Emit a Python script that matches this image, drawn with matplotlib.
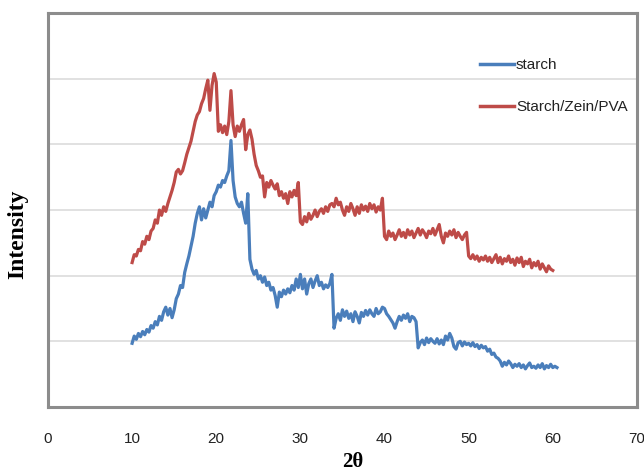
import numpy as np
import matplotlib
matplotlib.use("Agg")
import matplotlib.pyplot as plt

# XRD scan grid (degrees 2-theta, 0.25 step)
two_theta_starch = np.arange(10.0, 60.51, 0.25)
two_theta_blend = np.arange(10.0, 60.01, 0.25)

# intensities (arbitrary units, 1 unit = one gridline)
starch = [
    0.97, 1.08, 1.03, 1.12, 1.07, 1.15, 1.10, 1.18,
    1.14, 1.24, 1.20, 1.30, 1.25, 1.38, 1.32, 1.45,
    1.52, 1.40, 1.50, 1.36, 1.48, 1.65, 1.72, 1.85,
    1.82, 2.05, 2.18, 2.30, 2.45, 2.60, 2.80, 2.95,
    3.05, 2.85, 3.02, 2.88, 3.00, 3.12, 3.05, 3.22,
    3.28, 3.38, 3.35, 3.45, 3.42, 3.52, 3.60, 4.06,
    3.45, 3.20, 3.10, 3.05, 3.12, 2.95, 2.80, 3.25,
    2.25, 2.10, 2.02, 2.08, 1.95, 2.00, 1.90, 1.98,
    1.85, 1.90, 1.78, 1.82, 1.70, 1.52, 1.75, 1.68,
    1.78, 1.72, 1.80, 1.74, 1.85, 1.78, 1.95, 1.82,
    2.02, 1.80, 1.95, 1.72, 1.88, 1.95, 1.82, 1.92,
    2.00, 1.85, 1.90, 1.80, 1.86, 1.82, 1.88, 2.02,
    1.20, 1.35, 1.42, 1.32, 1.48, 1.38, 1.46, 1.35,
    1.42, 1.30, 1.45, 1.38, 1.28, 1.44, 1.38, 1.47,
    1.40, 1.48, 1.42, 1.38, 1.50, 1.42, 1.45, 1.52,
    1.50, 1.42, 1.38, 1.33, 1.28, 1.20, 1.30, 1.38,
    1.32, 1.40, 1.35, 1.42, 1.30, 1.38, 1.36, 1.30,
    0.90, 0.98, 1.02, 0.95, 1.05, 0.98, 1.04, 1.00,
    0.97, 1.04, 0.96, 1.02, 0.95, 1.08, 1.02, 1.12,
    1.05, 0.92, 0.88, 0.98, 1.00, 0.93, 0.99, 0.95,
    0.97, 0.93, 0.98, 0.92, 0.95, 0.89, 0.94, 0.90,
    0.92, 0.85, 0.88, 0.80, 0.82, 0.76, 0.74, 0.70,
    0.62, 0.68, 0.64, 0.70, 0.66, 0.60, 0.65, 0.62,
    0.66, 0.60, 0.64, 0.58, 0.63, 0.67, 0.60, 0.62,
    0.59, 0.64, 0.60, 0.66, 0.58, 0.63, 0.60, 0.65,
    0.60, 0.62, 0.60,
]

starch_zein_pva = [
    2.20, 2.32, 2.30, 2.40, 2.38, 2.52, 2.48, 2.60,
    2.55, 2.68, 2.72, 2.85, 2.80, 3.00, 2.92, 3.05,
    2.98, 3.10, 3.20, 3.30, 3.42, 3.58, 3.62, 3.55,
    3.60, 3.72, 3.85, 3.95, 4.05, 4.20, 4.35, 4.45,
    4.50, 4.62, 4.70, 4.85, 4.98, 4.52, 4.90, 5.08,
    4.95, 4.20, 4.30, 4.18, 4.28, 4.15, 4.35, 4.82,
    4.30, 4.12, 4.28, 4.20, 4.30, 4.38, 3.92, 4.15,
    4.22, 4.08, 3.85, 3.68, 3.60, 3.50, 3.52, 3.20,
    3.42, 3.35, 3.45, 3.38, 3.32, 3.40, 3.22, 3.28,
    3.18, 3.25, 3.10, 3.28, 3.20, 3.30, 3.22, 3.42,
    2.82, 2.78, 2.90, 2.82, 2.95, 2.86, 2.92, 3.00,
    2.90, 2.98, 3.02, 2.95, 3.05, 2.98, 3.08, 3.10,
    3.05, 3.18, 3.08, 3.12, 3.00, 2.92, 3.05, 2.98,
    3.10, 3.02, 2.92, 3.05, 2.95, 3.08, 3.00, 3.06,
    2.98, 3.10, 3.02, 3.08, 2.97, 3.05, 3.00, 3.18,
    2.60, 2.55, 2.68, 2.60, 2.65, 2.55, 2.62, 2.70,
    2.60, 2.66, 2.58, 2.70, 2.62, 2.68, 2.58, 2.65,
    2.72, 2.62, 2.70, 2.65, 2.58, 2.68, 2.64, 2.72,
    2.62, 2.70, 2.78, 2.60, 2.50, 2.65, 2.60, 2.68,
    2.62, 2.70, 2.58, 2.66, 2.60, 2.55, 2.62, 2.66,
    2.30, 2.26, 2.32, 2.25, 2.30, 2.22, 2.28, 2.24,
    2.30, 2.22, 2.28, 2.20, 2.26, 2.32, 2.20, 2.28,
    2.18, 2.26, 2.22, 2.30, 2.20, 2.25, 2.16, 2.27,
    2.20, 2.28, 2.14, 2.22, 2.18, 2.25, 2.12, 2.20,
    2.15, 2.22, 2.10, 2.18, 2.12, 2.06, 2.15, 2.10,
    2.08,
]

x_ticks = [0, 10, 20, 30, 40, 50, 60, 70]
series_labels = ["starch", "Starch/Zein/PVA"]

sans = "Liberation Sans"

fig = plt.figure(figsize=(6.44, 4.71), dpi=100)
ax = fig.add_axes([0.0745, 0.136, 0.9145, 0.836])

ax.plot(two_theta_starch, starch, color="#4a7ebb", lw=2.3, label=series_labels[0])
ax.plot(two_theta_blend, starch_zein_pva, color="#be4b48", lw=2.3, label=series_labels[1])

ax.set_xlim(0, 70)
ax.set_ylim(0, 6)
ax.set_xticks(x_ticks)
ax.set_yticks([1, 2, 3, 4, 5])
ax.set_yticklabels([])
ax.tick_params(axis="both", length=0)
ax.tick_params(axis="x", pad=18)
for lab in ax.get_xticklabels():
    lab.set_family(sans)
    lab.set_fontsize(11)
    lab.set_color("#222222")
ax.grid(axis="y", color="#d9d9d9", lw=1.1)
ax.set_axisbelow(True)

for sp in ax.spines.values():
    sp.set_color("#8c8c8c")
    sp.set_linewidth(2.2)

fig.text(0.027, 0.503, "Intensity", rotation=90, ha="center", va="center",
         family="Liberation Serif", fontweight="bold", fontsize=17)
fig.text(0.547, 0.02, "2θ", ha="center", va="center",
         family="Liberation Serif", fontweight="bold", fontsize=15)

leg = ax.legend(loc="upper left", bbox_to_anchor=(480 / 644, 1 - 58 / 471),
                bbox_transform=fig.transFigure, frameon=False,
                handlelength=2.2, handletextpad=0.15, labelspacing=1.85,
                borderpad=0, borderaxespad=0,
                prop={"family": sans, "size": 11})
for line in leg.get_lines():
    line.set_linewidth(2.5)
for t in leg.get_texts():
    t.set_color("#222222")

fig.savefig("out.png", dpi=100)
